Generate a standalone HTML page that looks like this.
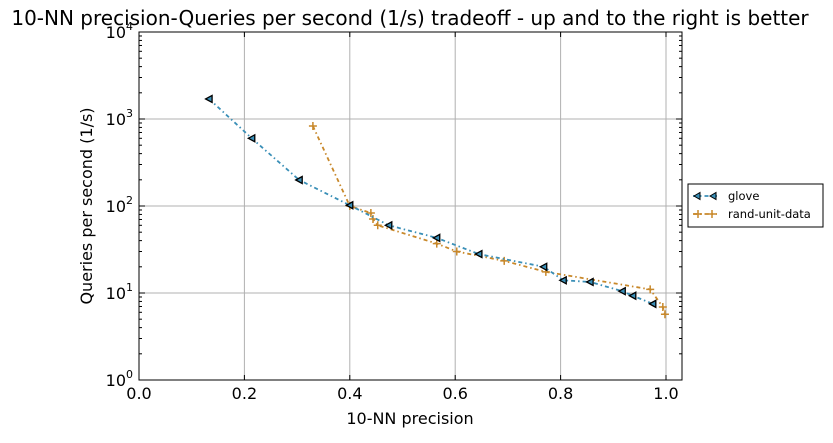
<!DOCTYPE html>
<html><head><meta charset="utf-8"><style>
body{margin:0;background:#fff;font-family:"Liberation Sans","DejaVu Sans",sans-serif}
</style></head><body>
<svg id="c" width="833" height="438" xmlns="http://www.w3.org/2000/svg" style="font-family:'DejaVu Sans','Liberation Sans',sans-serif">
<text x="410" y="25" font-size="20" text-anchor="middle">10-NN precision-Queries per second (1/s) tradeoff - up and to the right is better</text>
<g id="grid"></g>
<g id="axes"></g>
<g id="series"></g>
<text x="410" y="424" font-size="16" text-anchor="middle">10-NN precision</text>
<text transform="translate(92,206) rotate(-90)" font-size="16" text-anchor="middle">Queries per second (1/s)</text>
<g>
<rect x="688" y="184" width="135" height="43" fill="#fff" stroke="#000"/>
<g>
<line x1="693" y1="196" x2="717" y2="196" stroke="#3a8fb7" stroke-width="1.8" stroke-dasharray="4,3,1.5,3"/>
<polygon points="694,196 700,192.5 700,199.5" fill="#3a8fb7" stroke="#000"/><polygon points="710,196 716,192.5 716,199.5" fill="#3a8fb7" stroke="#000"/>
<text x="728" y="200" font-size="11.5">glove</text></g>
<g>
<line x1="693" y1="214" x2="717" y2="214" stroke="#c8882a" stroke-width="1.8" stroke-dasharray="4,3,1.5,3"/>
<path d="M694,214h8M698,210v8M708,214h8M712,210v8" stroke="#c8882a" stroke-width="1.5"/>
<text x="728" y="218" font-size="11.5">rand-unit-data</text></g>
</g>
</svg>
<script>
const xTicks=[0.0,0.2,0.4,0.6,0.8,1.0];
const xTickLabels=["0.0","0.2","0.4","0.6","0.8","1.0"];
const yTicks=[0,1,2,3,4];
const gloveX=[0.133,0.214,0.304,0.40,0.474,0.565,0.645,0.768,0.805,0.856,0.917,0.937,0.975];
const gloveY=[1700,600,199,102,60,43,28,20,14,13.4,10.5,9.3,7.5];
const randX=[0.330,0.40,0.440,0.444,0.453,0.565,0.603,0.693,0.772,0.970,0.994,0.998];
const randY=[830,100,83,71,60,37,30,23.4,17.5,11,6.9,5.7];
const L=139,R=682,T=32,B=380,XMAX=(R-L)/527;
const sx=v=>L+v/XMAX*(R-L);
const sy=v=>B-Math.log10(v)/4*(B-T);
const NS="http://www.w3.org/2000/svg";
function mk(p,t,a){const e=document.createElementNS(NS,t);for(const k in a)e.setAttribute(k,a[k]);p.appendChild(e);return e;}
const grid=document.getElementById('grid'),axes=document.getElementById('axes'),ser=document.getElementById('series');
xTicks.forEach((v,i)=>{const x=sx(v);
 const g=mk(grid,'line',{x1:x,x2:x,y1:T,y2:B,stroke:'#b0b0b0','stroke-width':1});
 
 mk(axes,'line',{x1:x,x2:x,y1:B,y2:B-5,stroke:'#000'});mk(axes,'line',{x1:x,x2:x,y1:T,y2:T+5,stroke:'#000'});
 const t=mk(axes,'text',{x:x,y:B+19,'font-size':16,'text-anchor':'middle'});t.textContent=xTickLabels[i];
 });
yTicks.forEach(d=>{const y=sy(Math.pow(10,d));
 if(d>0&&d<4){const g=mk(grid,'line',{x1:L,x2:R,y1:y,y2:y,stroke:'#b0b0b0','stroke-width':1});
 }
 mk(axes,'line',{x1:L,x2:L+6,y1:y,y2:y,stroke:'#000'});mk(axes,'line',{x1:R,x2:R-6,y1:y,y2:y,stroke:'#000'});
 const t=mk(axes,'text',{x:L-6,y:y+6,'font-size':16,'text-anchor':'end'});t.textContent='10';
 const s=mk(t,'tspan',{dy:-8,'font-size':11});s.textContent=d;
 
 if(d<4)for(let m=2;m<10;m++){const yy=sy(m*Math.pow(10,d));
  mk(axes,'line',{x1:L,x2:L+3,y1:yy,y2:yy,stroke:'#000'});mk(axes,'line',{x1:R,x2:R-3,y1:yy,y2:yy,stroke:'#000'});}});
const fr=mk(axes,'rect',{x:L,y:T,width:R-L,height:B-T,fill:'none',stroke:'#000'});

function draw(X,Y,col,kind,name){
 const pl=mk(ser,'polyline',{points:X.map((v,i)=>sx(v)+','+sy(Y[i])).join(' '),fill:'none',stroke:col,'stroke-width':1.8,'stroke-dasharray':'4,3,1.5,3'});
 
 X.forEach((v,i)=>{const x=sx(v),y=sy(Y[i]);let m;
  if(kind==='tri')m=mk(ser,'polygon',{points:`${x-3.5},${y} ${x+3},${y-3.5} ${x+3},${y+3.5}`,fill:col,stroke:'#000','stroke-width':1.3});
  else m=mk(ser,'path',{d:`M${x-4},${y}h8M${x},${y-4}v8`,stroke:col,'stroke-width':1.5});
  });}
draw(randX,randY,'#c8882a','plus','rand-unit-data');
draw(gloveX,gloveY,'#3a8fb7','tri','glove');
</script>
</body></html>
